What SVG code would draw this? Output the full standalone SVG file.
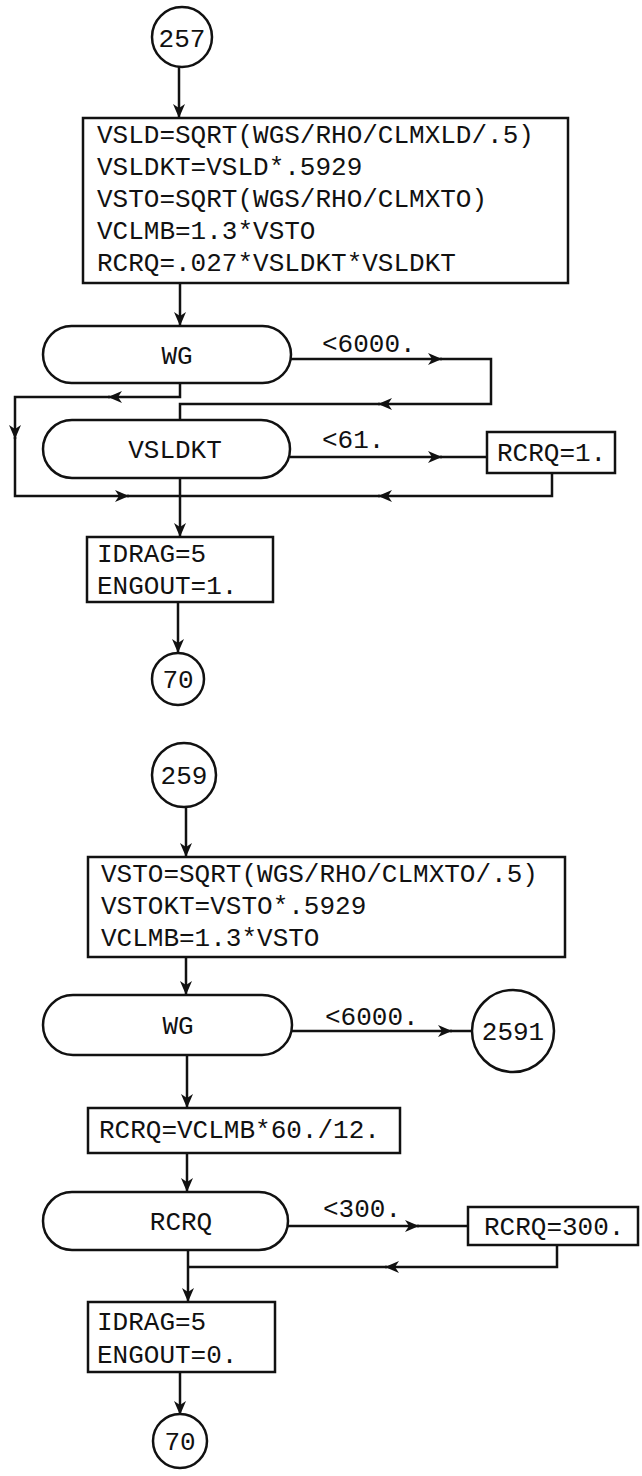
<svg xmlns="http://www.w3.org/2000/svg" width="642" height="1476" viewBox="0 0 642 1476">
<style>
.ln{fill:none;stroke:#111;stroke-width:2.5;stroke-linejoin:miter}
.bx{fill:#fff;stroke:#111;stroke-width:2.5}
.t{font-family:"Liberation Mono","DejaVu Sans Mono",monospace;font-size:26px;fill:#111}
.c{text-anchor:middle}
</style>
<defs>
<marker id="ah" markerUnits="userSpaceOnUse" markerWidth="15" markerHeight="12" refX="14" refY="6" orient="auto">
<path d="M0,0 L14,6 L0,12 L4,6 z" fill="#111"/>
</marker>
</defs>
<rect width="642" height="1476" fill="#fff"/>

<g id="connectors">
<path class="ln" d="M179,67 L179,118" marker-end="url(#ah)"/>
<path class="ln" d="M180,283 L180,326" marker-end="url(#ah)"/>
<path class="ln" d="M291,359 L442,359" marker-end="url(#ah)"/>
<path class="ln" d="M440,359 L491,359 L491,404 L378,404" marker-end="url(#ah)"/>
<path class="ln" d="M380,404 L180,404 L180,420"/>
<path class="ln" d="M180,383 L180,397 L108,397" marker-end="url(#ah)"/>
<path class="ln" d="M110,397 L15,397 L15,439" marker-end="url(#ah)"/>
<path class="ln" d="M15,437 L15,496 L129,496" marker-end="url(#ah)"/>
<path class="ln" d="M127,496 L180,496"/>
<path class="ln" d="M290,457 L442,457" marker-end="url(#ah)"/>
<path class="ln" d="M440,457 L487,457"/>
<path class="ln" d="M552,473 L552,496 L378,496" marker-end="url(#ah)"/>
<path class="ln" d="M380,496 L180,496"/>
<path class="ln" d="M180,478 L180,537" marker-end="url(#ah)"/>
<path class="ln" d="M178,602 L178,653" marker-end="url(#ah)"/>

<path class="ln" d="M186,807 L186,857" marker-end="url(#ah)"/>
<path class="ln" d="M186,957 L186,995" marker-end="url(#ah)"/>
<path class="ln" d="M292,1031 L452,1031" marker-end="url(#ah)"/>
<path class="ln" d="M450,1031 L472,1031"/>
<path class="ln" d="M187,1055 L187,1108" marker-end="url(#ah)"/>
<path class="ln" d="M187,1153 L187,1192" marker-end="url(#ah)"/>
<path class="ln" d="M288,1226 L419,1226" marker-end="url(#ah)"/>
<path class="ln" d="M417,1226 L468,1226"/>
<path class="ln" d="M557,1245 L557,1267 L385,1267" marker-end="url(#ah)"/>
<path class="ln" d="M387,1267 L188,1267"/>
<path class="ln" d="M188,1250 L188,1302" marker-end="url(#ah)"/>
<path class="ln" d="M180,1372 L180,1415" marker-end="url(#ah)"/>

<text class="t" x="322" y="352">&lt;6000.</text>
<text class="t" x="322" y="448">&lt;61.</text>
<text class="t" x="325" y="1025">&lt;6000.</text>
<text class="t" x="323" y="1217">&lt;300.</text>
</g>

<g id="c257">
<circle class="bx" cx="182" cy="37" r="30"/>
<text class="t c" x="182" y="47">257</text>
</g>

<g id="box1">
<rect class="bx" x="83" y="118" width="485" height="165"/>
<text class="t" x="97" y="143">VSLD=SQRT(WGS/RHO/CLMXLD/.5)</text>
<text class="t" x="97" y="175">VSLDKT=VSLD*.5929</text>
<text class="t" x="97" y="207">VSTO=SQRT(WGS/RHO/CLMXTO)</text>
<text class="t" x="97" y="239">VCLMB=1.3*VSTO</text>
<text class="t" x="97" y="271">RCRQ=.027*VSLDKT*VSLDKT</text>
</g>

<g id="wg1">
<rect class="bx" x="43" y="326" width="248" height="57" rx="28.5"/>
<text class="t c" x="177" y="364">WG</text>
</g>

<g id="vsldkt">
<rect class="bx" x="43" y="420" width="247" height="58" rx="29"/>
<text class="t c" x="175" y="458">VSLDKT</text>
</g>

<g id="rcrq1">
<rect class="bx" x="487" y="432" width="128" height="41"/>
<text class="t" x="497" y="461">RCRQ=1.</text>
</g>

<g id="idrag1">
<rect class="bx" x="87" y="537" width="186" height="65"/>
<text class="t" x="97" y="562">IDRAG=5</text>
<text class="t" x="97" y="594">ENGOUT=1.</text>
</g>

<g id="c70a">
<circle class="bx" cx="178" cy="679" r="26"/>
<text class="t c" x="178" y="688">70</text>
</g>

<g id="c259">
<circle class="bx" cx="184" cy="775" r="32"/>
<text class="t c" x="184" y="784">259</text>
</g>

<g id="box2">
<rect class="bx" x="88" y="857" width="477" height="100"/>
<text class="t" x="101" y="882">VSTO=SQRT(WGS/RHO/CLMXTO/.5)</text>
<text class="t" x="101" y="914">VSTOKT=VSTO*.5929</text>
<text class="t" x="101" y="946">VCLMB=1.3*VSTO</text>
</g>

<g id="wg2">
<rect class="bx" x="43" y="995" width="249" height="60" rx="30"/>
<text class="t c" x="178" y="1034">WG</text>
</g>

<g id="c2591">
<circle class="bx" cx="513" cy="1031" r="41"/>
<text class="t c" x="513" y="1040">2591</text>
</g>

<g id="box3">
<rect class="bx" x="88" y="1108" width="312" height="45"/>
<text class="t" x="99" y="1138">RCRQ=VCLMB*60./12.</text>
</g>

<g id="rcrq2">
<rect class="bx" x="43" y="1192" width="245" height="58" rx="29"/>
<text class="t c" x="181" y="1230">RCRQ</text>
</g>

<g id="rcrq300">
<rect class="bx" x="468" y="1207" width="170" height="38"/>
<text class="t" x="484" y="1235">RCRQ=300.</text>
</g>

<g id="idrag2">
<rect class="bx" x="88" y="1302" width="187" height="70"/>
<text class="t" x="97" y="1330">IDRAG=5</text>
<text class="t" x="97" y="1363">ENGOUT=0.</text>
</g>

<g id="c70b">
<circle class="bx" cx="180" cy="1441" r="27"/>
<text class="t c" x="180" y="1450">70</text>
</g>
</svg>
